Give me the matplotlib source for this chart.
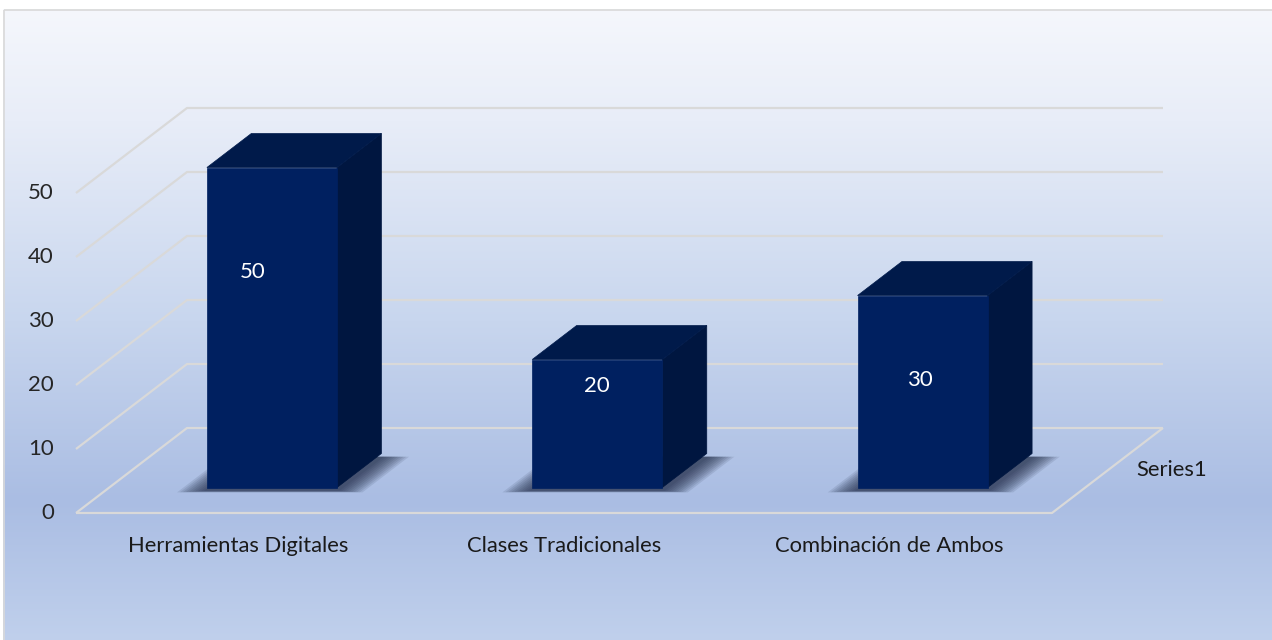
import numpy as np
import matplotlib
matplotlib.use("Agg")
import matplotlib.pyplot as plt
from matplotlib.patches import Polygon, Rectangle

categories = ["Herramientas Digitales", "Clases Tradicionales", "Combinación de Ambos"]
values = [50, 20, 30]
yticks = [0, 10, 20, 30, 40, 50]
series_name = "Series1"

# oblique projection: depth d in [0, 1] shifts right and up
PX_CAT = 325.33      # pixels per category
PX_VAL = 6.4         # pixels per value unit
KX = 111 / PX_CAT    # depth shift in category units
KY = 85 / PX_VAL     # depth shift in value units


def proj(c, v, d):
    return c + d * KX, v + d * KY


W, H = 1272, 640
fig = plt.figure(figsize=(W / 100, H / 100), dpi=100)

# background with gradient (pixel coords)
bg = fig.add_axes([0, 0, 1, 1])
bg.set_xlim(0, W)
bg.set_ylim(H, 0)
bg.axis("off")
stops_y = [9, 120, 320, 500, 640]
stops_c = np.array([[245, 247, 252], [232, 237, 248], [200, 214, 238],
                    [170, 189, 227], [192, 208, 236]]) / 255
yy = np.arange(9, H)
grad = np.stack([np.interp(yy, stops_y, stops_c[:, k]) for k in range(3)], axis=-1)
bg.imshow(grad[:, None, :], extent=[3, W + 2, H, 9], aspect="auto", zorder=0)
bg.add_patch(Rectangle((3.5, 9.5), W, H, fill=False, ec="#d9d9d9", lw=1.2, zorder=1))

ax = fig.add_axes([0, 0, 1, 1])
ax.patch.set_alpha(0)
ax.set_xlim(-76 / PX_CAT, (W - 76) / PX_CAT)
ax.set_ylim(-(H - 513) / PX_VAL, 513 / PX_VAL)
ax.axis("off")

n = len(categories)
grid_kw = dict(color="#d9d9d9", lw=1.6, solid_capstyle="butt", zorder=1)

# walls: left side diagonals and back wall lines
for v in yticks:
    x0, y0 = proj(0, v, 0)
    x1, y1 = proj(0, v, 1)
    x2, y2 = proj(n, v, 1)
    ax.plot([x0, x1, x2], [y0, y1, y2], **grid_kw)
# floor front and right edges
fx = [proj(0, 0, 0)[0], proj(n, 0, 0)[0], proj(n, 0, 1)[0]]
fy = [proj(0, 0, 0)[1], proj(n, 0, 0)[1], proj(n, 0, 1)[1]]
ax.plot(fx, fy, **grid_kw)

# value tick labels
for v in yticks:
    x0, y0 = proj(0, v, 0)
    ax.text(x0 - 22 / PX_CAT, y0, str(v), ha="right", va="center",
            fontsize=16, family="Lato", color="#262626")

# category labels
for i, cat in enumerate(categories):
    ax.text(i + 0.5, -33 / PX_VAL, cat, ha="center", va="center",
            fontsize=15.8, family="Lato", color="#1a1a1a")

# depth axis label
sx, sy = proj(n, 0, 0.5)
ax.text(sx + 29 / PX_CAT, sy, series_name, ha="left", va="center",
        fontsize=15.8, family="Lato", color="#1a1a1a")

# bars
d0, d1 = 0.3, 0.7
front_c, side_c, top_c = "#002060", "#001640", "#001a4a"
label_dx = [-19, 0, -3]     # label shift from front centre, pixels
label_dy = [104, 26, 85]    # label drop below bar top, pixels
for i, val in enumerate(values):
    c0, c1 = i + 0.3, i + 0.7
    # soft shadow on the floor
    for k in range(10):
        e = 0.085 * (1 - k / 10)
        sd = 0.02 * (1 - k / 10)
        pts = [proj(c0 - e, 0, d0 - sd), proj(c1 + e, 0, d0 - sd),
               proj(c1 + e, 0, d1), proj(c0 - e, 0, d1)]
        pts = [(x, y - 0.5) for x, y in pts]
        ax.add_patch(Polygon(pts, closed=True, fc="#1a2540", ec="none",
                             alpha=0.11, zorder=2))
    front = [proj(c0, 0, d0), proj(c1, 0, d0), proj(c1, val, d0), proj(c0, val, d0)]
    side = [proj(c1, 0, d0), proj(c1, 0, d1), proj(c1, val, d1), proj(c1, val, d0)]
    top = [proj(c0, val, d0), proj(c1, val, d0), proj(c1, val, d1), proj(c0, val, d1)]
    ax.add_patch(Polygon(side, closed=True, fc=side_c, ec=side_c, lw=0.5, zorder=3))
    ax.add_patch(Polygon(top, closed=True, fc=top_c, ec=top_c, lw=0.5, zorder=3))
    ax.add_patch(Polygon(front, closed=True, fc=front_c, ec=front_c, lw=0.5, zorder=4))
    tx, ty = proj(i + 0.5, val, d0)
    ax.text(tx + label_dx[i] / PX_CAT, ty - label_dy[i] / PX_VAL, str(val),
            ha="center", va="center", fontsize=16, family="Lato", color="white",
            zorder=5)

fig.savefig("out.png", dpi=100)
